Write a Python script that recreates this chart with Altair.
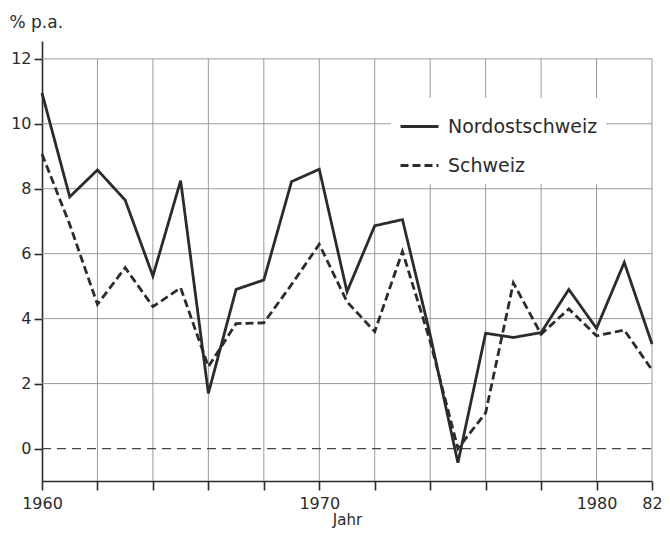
import altair as alt
import pandas as pd

years = list(range(1960, 1983))
nordost = [10.95, 7.75, 8.58, 7.65, 5.31, 8.25, 1.7, 4.9, 5.19, 8.22, 8.6,
           4.83, 6.86, 7.05, 3.5, -0.44, 3.55, 3.42, 3.57, 4.9, 3.7, 5.73, 3.22]
schweiz = [9.07, 6.9, 4.44, 5.57, 4.37, 4.95, 2.52, 3.85, 3.87, 5.05, 6.29,
           4.52, 3.6, 6.07, 3.3, 0.0, 1.1, 5.1, 3.52, 4.3, 3.47, 3.65, 2.42]
series_names = ["Nordostschweiz", "Schweiz"]
grid_years = list(range(1962, 1983, 2))
y_ticks = [0, 2, 4, 6, 8, 10, 12]

rows = []
for y, a, b in zip(years, nordost, schweiz):
    rows.append({"Jahr": y, "Wert": a, "Serie": series_names[0]})
    rows.append({"Jahr": y, "Wert": b, "Serie": series_names[1]})
df = pd.DataFrame(rows)

FONT = "DejaVu Sans"
INK = "#2b2b2b"
GRID = "#8f8f8f"

xscale = alt.Scale(domain=[1960, 1982], nice=False, zero=False)
yscale = alt.Scale(domain=[-1, 12.55], nice=False, zero=False)

label_expr = ("datum.value == 1960 ? '1960' : datum.value == 1970 ? '1970' : "
              "datum.value == 1980 ? '1980' : datum.value == 1982 ? '82' : ''")

# vertical grid lines (from -1 to 12)
vgrid = alt.Chart(pd.DataFrame({"Jahr": grid_years, "lo": -1, "hi": 12})).mark_rule(
    color=GRID, strokeWidth=0.9
).encode(
    x=alt.X("Jahr:Q", scale=xscale),
    y=alt.Y("lo:Q", scale=yscale),
    y2="hi:Q",
)

# horizontal grid lines
hvals = [v for v in y_ticks if v > 0]
hgrid = alt.Chart(pd.DataFrame({"v": hvals, "a": 1960, "b": 1982})).mark_rule(
    color=GRID, strokeWidth=0.9
).encode(
    y=alt.Y("v:Q", scale=yscale),
    x=alt.X("a:Q", scale=xscale),
    x2="b:Q",
)

zero = alt.Chart(pd.DataFrame({"v": [0], "a": 1960, "b": 1982})).mark_rule(
    color="#444444", strokeWidth=1.3, strokeDash=[9, 6]
).encode(
    y=alt.Y("v:Q", scale=yscale),
    x=alt.X("a:Q", scale=xscale),
    x2="b:Q",
)

lines = alt.Chart(df).mark_line(color=INK, strokeWidth=2.8).encode(
    x=alt.X(
        "Jahr:Q",
        scale=xscale,
        axis=alt.Axis(
            title="Jahr",
            values=[1960] + grid_years,
            labelExpr=label_expr,
            grid=False,
            tickSize=9,
            tickColor=INK,
            tickWidth=1.6,
            domainColor=INK,
            domainWidth=1.6,
            labelFont=FONT,
            labelFontSize=16,
            labelColor=INK,
            labelPadding=5,
            labelFlush=False,
            labelOverlap=False,
            titleFont=FONT,
            titleFontSize=15,
            titleFontWeight="normal",
            titleColor=INK,
            titlePadding=1,
        ),
    ),
    y=alt.Y(
        "Wert:Q",
        scale=yscale,
        axis=alt.Axis(
            title="% p.a.",
            values=y_ticks,
            grid=False,
            tickSize=8,
            tickColor=INK,
            tickWidth=1.6,
            domainColor=INK,
            domainWidth=1.6,
            labelFont=FONT,
            labelFontSize=16,
            labelColor=INK,
            labelPadding=3,
            titleFont=FONT,
            titleFontSize=17,
            titleFontWeight="normal",
            titleColor=INK,
            titleAngle=0,
            titleAlign="left",
            titleBaseline="bottom",
            titleX=-33,
            titleY=-10,
        ),
    ),
    strokeDash=alt.StrokeDash(
        "Serie:N",
        scale=alt.Scale(domain=series_names, range=[[1, 0], [8, 4]]),
        legend=alt.Legend(
            title=None,
            orient="none",
            legendX=349,
            legendY=57,
            symbolType="stroke",
            symbolSize=1444,
            symbolStrokeWidth=2.8,
            symbolStrokeColor=INK,
            labelFont=FONT,
            labelFontSize=19,
            labelColor=INK,
            labelOffset=8,
            rowPadding=8,
            fillColor="white",
            padding=8,
        ),
    ),
)

chart = alt.layer(vgrid, hgrid, zero, lines).properties(
    width=610,
    height=440,
    autosize=alt.AutoSizeParams(type="none"),
    padding={"left": 34, "top": 33, "right": 10, "bottom": 51},
).configure(background="white").configure_view(stroke=None)

chart.save("out.html", embed_options={"renderer": "svg", "actions": False})
